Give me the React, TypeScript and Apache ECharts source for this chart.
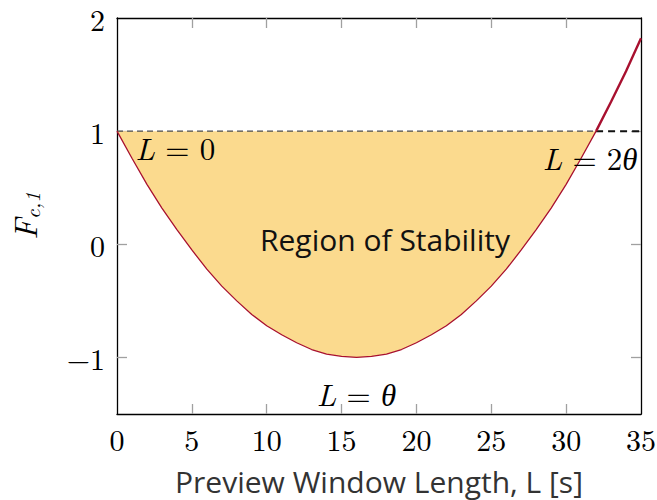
import React, { useEffect, useRef } from "react";
import * as echarts from "echarts";

// Preview window length L [s]
const L = [0, 1, 2, 3, 4, 5, 6, 7, 8, 9, 10, 11, 12, 13, 14, 15, 16, 17, 18, 19, 20, 21, 22, 23, 24, 25, 26, 27, 28, 29, 30, 31, 32, 33, 34, 35];
// F_{c,1}
const F = [1.0, 0.76, 0.53, 0.32, 0.13, -0.05, -0.22, -0.37, -0.5, -0.62, -0.72, -0.8, -0.87, -0.93, -0.97, -0.99, -1.0, -0.99, -0.97, -0.93, -0.87, -0.8, -0.72, -0.62, -0.5, -0.37, -0.22, -0.05, 0.13, 0.32, 0.53, 0.76, 1.0, 1.26, 1.53, 1.82];
const STABLE_END = 32; // L = 2θ
const THRESHOLD = 1;
const X_TICKS = [0, 5, 10, 15, 20, 25, 30, 35];
const Y_TICKS = [-1, 0, 1, 2];

const SERIF = "'Latin Modern Roman', 'Liberation Serif', 'DejaVu Serif', serif";
const SANS = "'Open Sans', 'Noto Sans', sans-serif";
const RED = "#a8102f";
const FILL = "#fbda8e";

export default function App() {
  const ref = useRef<HTMLDivElement>(null);
  useEffect(() => {
    if (!ref.current) return;
    const chart = echarts.init(ref.current, null, { renderer: "svg" });
    const idxEnd = L.indexOf(STABLE_END);
    const stableL = L.slice(0, idxEnd + 1);
    const curveIn = stableL.map((x, i) => [x, F[i]]);
    const curveOut = L.slice(idxEnd).map((x, i) => [x, F[idxEnd + i]]);
    const fmt = (v: number) => (v < 0 ? "\u2212" + Math.abs(v) : String(v));
    const mathRich = {
      i: { fontFamily: SERIF, fontStyle: "italic", fontSize: 31, color: "#000" },
      n: { fontFamily: SERIF, fontSize: 31, color: "#000" },
    };
    const axisLineStyle = { color: "#000", width: 1.3 };
    const tickStyle = { color: "#a0a0a0", width: 1.3 };

    chart.setOption({
      animation: false,
      grid: { left: 117, right: 16, top: 18, bottom: 86, containLabel: false, outerBoundsMode: "none" },
      xAxis: [
        {
          type: "value", min: 0, max: 35, interval: 5, position: "bottom",
          axisLine: { show: true, onZero: false, lineStyle: axisLineStyle },
          axisTick: { show: true, inside: true, length: 10, lineStyle: tickStyle, customValues: X_TICKS.slice(1, -1) },
          axisLabel: { fontFamily: SERIF, fontSize: 30, lineHeight: 26, color: "#000", margin: 11, customValues: X_TICKS },
          splitLine: { show: false },
          name: "Preview Window Length, L [s]",
          nameLocation: "middle", nameGap: 52,
          nameTextStyle: { fontFamily: SANS, fontSize: 30, lineHeight: 30, color: "#333" },
        },
        {
          type: "value", min: 0, max: 35, interval: 5, position: "top",
          axisLine: { show: true, onZero: false, lineStyle: axisLineStyle },
          axisTick: { show: true, inside: true, length: 10, lineStyle: tickStyle, customValues: X_TICKS.slice(1, -1) },
          axisLabel: { show: false },
          splitLine: { show: false },
        },
      ],
      yAxis: [
        {
          type: "value", min: -1.5, max: 2, position: "left",
          axisLine: { show: true, onZero: false, lineStyle: axisLineStyle },
          axisTick: { show: true, inside: true, length: 10, lineStyle: tickStyle, customValues: [-1, 0, 1] },
          axisLabel: { fontFamily: SERIF, fontSize: 30, lineHeight: 24, color: "#000", margin: 12, customValues: Y_TICKS, formatter: fmt },
          splitLine: { show: false },
          name: "{i|F}{s|c,1}",
          nameLocation: "middle", nameGap: 76, nameRotate: 90,
          nameTextStyle: {
            rich: {
              i: { fontFamily: SERIF, fontStyle: "italic", fontSize: 32, color: "#000" },
              s: { fontFamily: SERIF, fontStyle: "italic", fontSize: 21, color: "#000", padding: [15, 0, 0, 0] },
            },
          },
        },
        {
          type: "value", min: -1.5, max: 2, position: "right",
          axisLine: { show: true, onZero: false, lineStyle: axisLineStyle },
          axisTick: { show: true, inside: true, length: 10, lineStyle: tickStyle, customValues: [-1, 0, 1] },
          axisLabel: { show: false },
          splitLine: { show: false },
        },
      ],
      series: [
        {
          type: "custom", silent: true, z: 1,
          data: [[0, THRESHOLD]],
          renderItem: (params: any, api: any) => {
            const pts = curveIn.map((p) => api.coord(p));
            pts.push(api.coord([STABLE_END, THRESHOLD]));
            pts.push(api.coord([0, THRESHOLD]));
            return { type: "polygon", shape: { points: pts }, style: { fill: FILL } };
          },
        },
        {
          type: "line", data: [[0, THRESHOLD], [STABLE_END, THRESHOLD]], symbol: "none",
          lineStyle: { color: "#4a4a4a", width: 1.2, type: [6, 4] }, z: 3,
        },
        {
          type: "line", data: [[STABLE_END, THRESHOLD], [35, THRESHOLD]], symbol: "none",
          lineStyle: { color: "#111", width: 2, type: [7, 5] }, z: 3,
        },
        {
          type: "line", data: curveIn, symbol: "none",
          lineStyle: { color: RED, width: 1.3 }, z: 4,
        },
        {
          type: "line", data: curveOut, symbol: "none",
          lineStyle: { color: RED, width: 2.4 }, z: 4,
          markPoint: {
            symbol: "circle", symbolSize: 0, silent: true,
            label: { show: true, position: "inside", rich: mathRich },
            data: [
              { coord: [3.9, 0.86], label: { formatter: "{i|L}{n| = 0}" } },
              { coord: [31.6, 0.77], label: { formatter: "{i|L}{n| = 2}{i|θ}" } },
              { coord: [16.0, -1.31], label: { formatter: "{i|L}{n| = }{i|θ}" } },
              {
                coord: [17.9, 0.04],
                label: { formatter: "Region of Stability", fontFamily: SANS, fontSize: 30, color: "#111" },
              },
            ],
          },
        },
      ],
    });
    return () => chart.dispose();
  }, []);
  return <div ref={ref} style={{ width: 657, height: 500, position: "absolute", left: 0, top: 0 }} />;
}
